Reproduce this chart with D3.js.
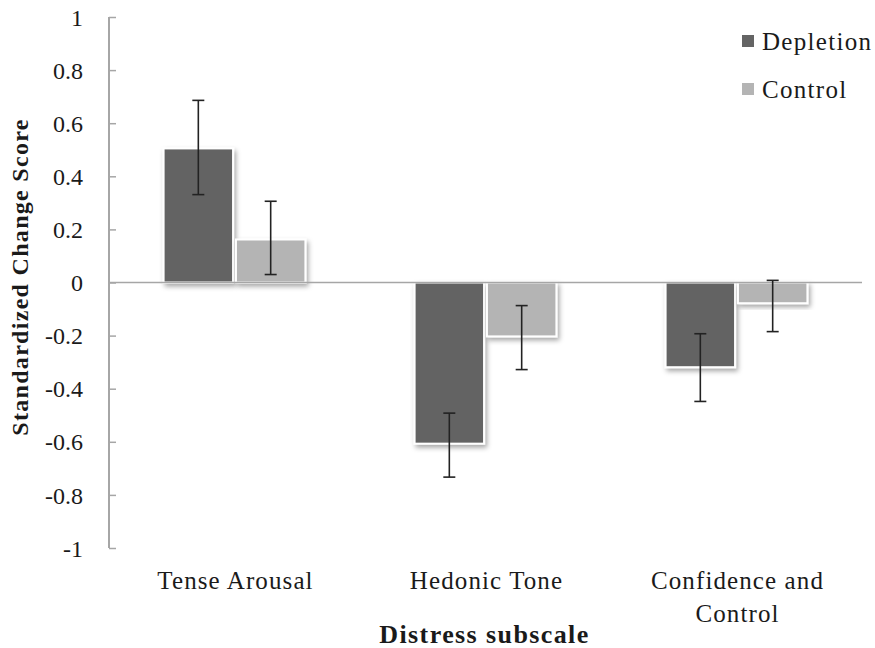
<!DOCTYPE html>
<html>
<head>
<meta charset="utf-8">
<script src="https://cdn.jsdelivr.net/npm/d3@7"></script>
<style>
  body { margin: 0; background: #fff; }
</style>
</head>
<body>
<div id="chart"></div>
<script>
var categories = ["Tense Arousal", "Hedonic Tone", "Confidence and Control"]
var series = ["Depletion", "Control"]
var depletion = [0.505, -0.607, -0.319]
var control = [0.162, -0.203, -0.078]
var depletionLow = [0.331, -0.733, -0.448]
var depletionHigh = [0.686, -0.492, -0.193]
var controlLow = [0.030, -0.328, -0.185]
var controlHigh = [0.306, -0.087, 0.008]
var yTicks = [1, 0.8, 0.6, 0.4, 0.2, 0, -0.2, -0.4, -0.6, -0.8, -1]
var colors = ["#646464", "#b4b4b4"]

var serif = "'Liberation Serif', 'DejaVu Serif', serif"
var ink = "#1a1a1a"

var width = 875, height = 648
var margin = { top: 17, right: 13, bottom: 100, left: 109 }

var svg = d3.select("#chart").append("svg")
    .attr("width", width)
    .attr("height", height)

var defs = svg.append("defs")
defs.append("filter")
    .attr("id", "shadow")
    .attr("x", "-20%").attr("y", "-20%")
    .attr("width", "150%").attr("height", "150%")
  .append("feDropShadow")
    .attr("dx", 2).attr("dy", 3)
    .attr("stdDeviation", 2.5)
    .attr("flood-color", "#000")
    .attr("flood-opacity", 0.35)

var g = svg.append("g")
    .attr("transform", "translate(" + margin.left + "," + margin.top + ")")

var w = width - margin.left - margin.right,
    h = height - margin.top - margin.bottom

var y = d3.scaleLinear().domain([-1, 1]).range([h, 0])
var x0 = d3.scaleBand().domain(categories).range([0, w]).paddingInner(0.435).paddingOuter(0.2175)
var x1 = d3.scaleBand().domain(series).range([0, x0.bandwidth()]).paddingInner(0.04)

var data = categories.map(function(c, i) {
  return [
    { cat: c, s: "Depletion", v: depletion[i], lo: depletionLow[i], hi: depletionHigh[i] },
    { cat: c, s: "Control", v: control[i], lo: controlLow[i], hi: controlHigh[i] }
  ]
})
var flat = [].concat.apply([], data)

// y axis
var yAxis = g.append("g")
    .call(d3.axisLeft(y).tickValues(yTicks).tickSize(-7).tickPadding(26)
      .tickFormat(function(d) { return String(+d.toFixed(1)); }))
yAxis.attr("font-family", serif).attr("font-size", 24)
yAxis.select(".domain").attr("stroke", "#a6a6a6").attr("stroke-width", 2).attr("d", "M0,0V" + h)
yAxis.selectAll(".tick line").attr("stroke", "#a6a6a6").attr("stroke-width", 1.5).attr("x2", 7).attr("x1", 0)
yAxis.selectAll(".tick text")
    .style("font-family", serif)
    .style("font-size", "24px")
    .attr("fill", ink)
    .attr("dy", "0.34em")

// bars
g.selectAll(".bar")
  .data(flat)
  .enter().append("rect")
    .attr("class", "bar")
    .attr("x", function(d) { return x0(d.cat) + x1(d.s); })
    .attr("width", x1.bandwidth())
    .attr("y", function(d) { return y(Math.max(0, d.v)); })
    .attr("height", function(d) { return Math.abs(y(d.v) - y(0)); })
    .attr("fill", function(d) { return colors[series.indexOf(d.s)]; })
    .attr("stroke", "#fff")
    .attr("stroke-width", 2)
    .attr("filter", "url(#shadow)")

// zero line
g.append("line")
    .attr("x1", 0).attr("x2", w)
    .attr("y1", y(0)).attr("y2", y(0))
    .attr("stroke", "#a6a6a6").attr("stroke-width", 1.5)

// error bars
var eb = g.selectAll(".err").data(flat).enter().append("g").attr("class", "err")
    .attr("transform", function(d) { return "translate(" + (x0(d.cat) + x1(d.s) + x1.bandwidth() / 2) + ",0)"; })
eb.append("line")
    .attr("y1", function(d) { return y(d.lo); })
    .attr("y2", function(d) { return y(d.hi); })
    .attr("stroke", "#222").attr("stroke-width", 1.6)
eb.selectAll(".cap").data(function(d) { return [d.lo, d.hi]; })
  .enter().append("line")
    .attr("x1", -6).attr("x2", 6)
    .attr("y1", function(d) { return y(d); })
    .attr("y2", function(d) { return y(d); })
    .attr("stroke", "#222").attr("stroke-width", 1.6)

// category labels
var catLabels = g.selectAll(".catLabel")
  .data(categories)
  .enter().append("text")
    .attr("class", "catLabel")
    .attr("x", function(d) { return x0(d) + x0.bandwidth() / 2 + 1; })
    .attr("y", 589 - margin.top)
    .attr("fill", ink)
    .style("text-anchor", "middle")
    .style("font-family", serif)
    .style("font-size", "25px")
    .style("letter-spacing", "1.1px")
catLabels.each(function(d) {
  var t = d3.select(this)
  var lines = d === "Confidence and Control" ? ["Confidence and", "Control"] : [d]
  lines.forEach(function(l, i) {
    t.append("tspan").attr("x", t.attr("x")).attr("dy", i === 0 ? 0 : 33).text(l)
  })
})

// axis titles
g.append("text")
    .attr("x", w / 2 - 1)
    .attr("y", 643 - margin.top)
    .attr("fill", ink)
    .style("text-anchor", "middle")
    .style("font-family", serif)
    .style("font-size", "26px")
    .style("font-weight", "bold")
    .style("letter-spacing", "1.4px")
    .text("Distress subscale")

svg.append("text")
    .attr("transform", "translate(28,277) rotate(-90)")
    .attr("fill", ink)
    .style("text-anchor", "middle")
    .style("font-family", serif)
    .style("font-size", "24px")
    .style("font-weight", "bold")
    .style("letter-spacing", "1.3px")
    .text("Standardized Change Score")

// legend
var legend = svg.selectAll(".legend")
  .data(series)
  .enter().append("g")
    .attr("class", "legend")
    .attr("transform", function(d, i) { return "translate(742," + (35 + i * 48) + ")"; })
legend.append("rect")
    .attr("width", 12).attr("height", 12)
    .attr("fill", function(d, i) { return colors[i]; })
legend.append("text")
    .attr("x", 20).attr("y", 15)
    .attr("fill", ink)
    .style("font-family", serif)
    .style("font-size", "25px")
    .style("letter-spacing", "1.3px")
    .text(function(d) { return d; })
</script>
</body>
</html>
